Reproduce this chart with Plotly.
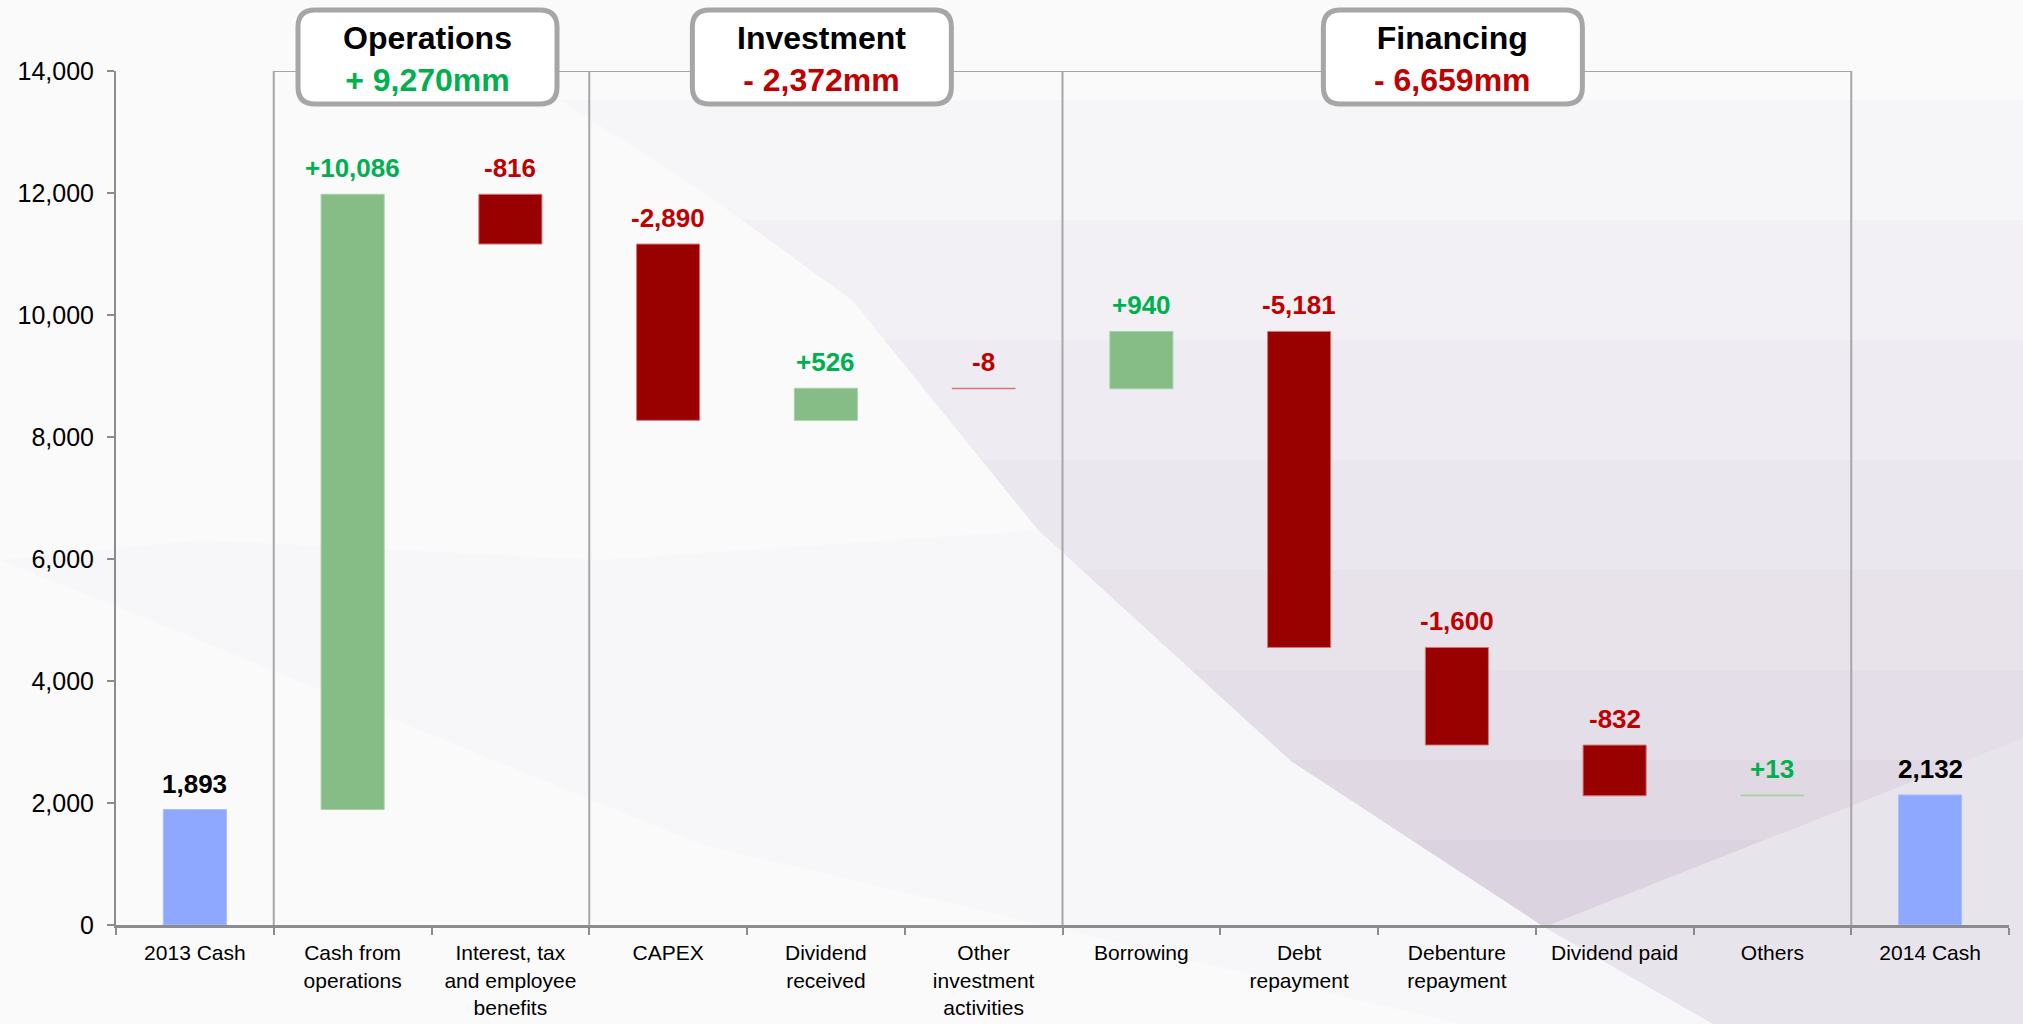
import plotly.graph_objects as go

# ---------------- data ----------------
categories = ["2013 Cash", "Cash from<br>operations", "Interest, tax<br>and employee<br>benefits",
              "CAPEX", "Dividend<br>received", "Other<br>investment<br>activities", "Borrowing",
              "Debt<br>repayment", "Debenture<br>repayment", "Dividend paid", "Others", "2014 Cash"]
values = [1893, 10086, -816, -2890, 526, -8, 940, -5181, -1600, -832, 13, 2132]
kinds = ["total", "delta", "delta", "delta", "delta", "delta", "delta",
         "delta", "delta", "delta", "delta", "total"]
group_names = ["Operations", "Investment", "Financing"]
group_totals = ["+ 9,270mm", "- 2,372mm", "- 6,659mm"]
group_first = [1, 3, 6]
group_last = [2, 5, 10]
y_ticks = [0, 2000, 4000, 6000, 8000, 10000, 12000, 14000]

# ---------------- styling ----------------
FONT = "Liberation Sans, Arial, sans-serif"
C_UP, C_DOWN, C_TOT = "#86BC86", "#990000", "#8FA8FF"
L_UP, L_DOWN, L_TOT = "#A9D2A9", "#D07878", "#A9BCFF"
T_UP, T_DOWN, T_TOT = "#00B050", "#C00000", "#000000"
GRID = "#A6A6A6"

W, H = 2023, 1024
ML, MR, MT, MB = 116, 14, 71, 99

# compute floating bars
bases, heights, fills, lines, tcolors, labels = [], [], [], [], [], []
running = 0
for v, k in zip(values, kinds):
    if k == "total":
        running = v
        bases.append(0); heights.append(v)
        fills.append(C_TOT); lines.append(L_TOT); tcolors.append(T_TOT)
        labels.append(f"{v:,}")
    else:
        lo = min(running, running + v)
        bases.append(lo); heights.append(abs(v))
        running += v
        if v >= 0:
            fills.append(C_UP); lines.append(L_UP); tcolors.append(T_UP)
            labels.append(f"+{v:,}")
        else:
            fills.append(C_DOWN); lines.append(L_DOWN); tcolors.append(T_DOWN)
            labels.append(f"-{abs(v):,}")

fig = go.Figure()
fig.add_trace(go.Bar(
    x=categories, y=heights, base=bases, width=0.4,
    marker=dict(color=fills, line=dict(color=lines, width=1)),
    hoverinfo="skip", showlegend=False,
))

# value labels
annotations = []
for i, (b, h, t, c) in enumerate(zip(bases, heights, labels, tcolors)):
    annotations.append(dict(
        x=i, y=b + h, xref="x", yref="y", text=f"<b>{t}</b>", showarrow=False,
        yanchor="bottom", xanchor="center", yshift=9,
        font=dict(family=FONT, size=26, color=c),
    ))

# ---------------- background decoration (slide backdrop) ----------------
def px_to_paper(pts):
    return [((px - ML) / (W - ML - MR), (H - MB - py) / (H - MT - MB)) for px, py in pts]

def poly(pts):
    p = px_to_paper(pts)
    return "M " + " L ".join(f"{a:.4f},{b:.4f}" for a, b in p) + " Z"

edge = [(560, 100), (700, 190), (852, 300), (1038, 530), (1291, 761), (1544, 927)]
tip = edge[-1]
right_edge_y = 738

def edge_x(y):
    for (x0, y0), (x1, y1) in zip(edge[:-1], edge[1:]):
        if y0 <= y <= y1:
            return x0 + (x1 - x0) * (y - y0) / (y1 - y0)
    return edge[0][0]

def right_x(y):
    if y >= right_edge_y:
        return tip[0] + (2023 - tip[0]) * (tip[1] - y) / (tip[1] - right_edge_y)
    return 2023

def v_layer(cut):
    pts = [(edge_x(cut), cut), (right_x(cut), cut)]
    if cut < right_edge_y:
        pts.append((2023, right_edge_y))
    pts.append(tip)
    pts += [p for p in reversed(edge[:-1]) if p[1] > cut]
    return pts

lav = "180,162,192"
bg_polys = [([(0, 0), (2023, 0), (2023, 1024), (0, 1024)], "rgba(250,250,251,1)")]
for cut, a in zip([100, 220, 340, 460, 570, 670, 760, 840],
                  [0.05, 0.05, 0.05, 0.06, 0.06, 0.07, 0.08, 0.09]):
    bg_polys.append((v_layer(cut), f"rgba({lav},{a})"))
# lighter wedge below the right edge of the V
bg_polys.append(([tip, (2023, right_edge_y), (2023, 1024), (1713, 1024)], f"rgba({lav},0.25)"))
# faint swoosh at the lower left
bg_polys.append(([(0, 560), (100, 600), (700, 844), (1460, 1024), (1713, 1024), tip,
                  (1291, 761), (1038, 530), (600, 560), (200, 540)], f"rgba({lav},0.04)"))

shapes = []
for pts, col in bg_polys:
    shapes.append(dict(type="path", xref="paper", yref="paper", path=poly(pts),
                       fillcolor=col, line=dict(width=0), layer="below"))

# ---------------- group brackets ----------------
ymax = y_ticks[-1]
seps = sorted(set([g - 0.5 for g in group_first] + [g + 0.5 for g in group_last]))
for s in seps:
    shapes.append(dict(type="line", xref="x", yref="y", x0=s, x1=s, y0=0, y1=ymax,
                       line=dict(color=GRID, width=2), layer="below"))
shapes.append(dict(type="line", xref="x", yref="y", x0=seps[0], x1=seps[-1], y0=ymax, y1=ymax,
                   line=dict(color=GRID, width=2), layer="below"))

# rounded header boxes
cat_px = (W - ML - MR) / len(categories)
box_w = 259 / cat_px
rx = 17 / cat_px
ph = H - MT - MB
by0, by1 = (H - MB - 104) / ph, (H - MB - 10) / ph
ry = 17 / ph
for name, tot, a, b in zip(group_names, group_totals, group_first, group_last):
    cx = (a + b) / 2 - 4 / cat_px
    x0, x1 = cx - box_w / 2, cx + box_w / 2
    path = (f"M {x0+rx},{by0} L {x1-rx},{by0} Q {x1},{by0} {x1},{by0+ry} "
            f"L {x1},{by1-ry} Q {x1},{by1} {x1-rx},{by1} L {x0+rx},{by1} "
            f"Q {x0},{by1} {x0},{by1-ry} L {x0},{by0+ry} Q {x0},{by0} {x0+rx},{by0} Z")
    shapes.append(dict(type="path", xref="x", yref="paper", path=path,
                       fillcolor="white", line=dict(color=GRID, width=5), layer="above"))
    col = T_UP if tot.startswith("+") else T_DOWN
    annotations.append(dict(
        x=cx, y=(by0 + by1) / 2 - 2 / ph, xref="x", yref="paper", showarrow=False,
        xanchor="center", yanchor="middle",
        text=f"<b>{name}</b><br><b><span style='color:{col}'>{tot}</span></b>",
        font=dict(family=FONT, size=32, color="#000000"),
    ))

fig.update_layout(
    width=W, height=H,
    margin=dict(l=ML, r=MR, t=MT, b=MB, pad=0, autoexpand=False),
    paper_bgcolor="#FAFAFB", plot_bgcolor="rgba(0,0,0,0)",
    shapes=shapes, annotations=annotations,
    bargap=0.6, showlegend=False,
    font=dict(family=FONT, color="#000000"),
)
fig.update_xaxes(
    type="category", range=[-0.5, len(categories) - 0.5], automargin=False,
    tickson="boundaries", ticks="outside", ticklen=7, tickwidth=2, tickcolor="#8C8C8C",
    showline=True, linecolor="#8C8C8C", linewidth=3, showgrid=False, zeroline=False,
    ticklabelstandoff=7,
    tickfont=dict(family=FONT, size=21, color="#000000"),
)
fig.update_yaxes(
    range=[0, ymax], tickvals=y_ticks, tickformat=",", ticks="outside", ticklen=7,
    automargin=False,
    tickwidth=2, tickcolor="#8C8C8C", showline=True, linecolor="#8C8C8C", linewidth=2,
    showgrid=False, zeroline=False, ticklabelstandoff=8,
    tickfont=dict(family=FONT, size=25, color="#000000"),
)

fig.write_html("out.html")
